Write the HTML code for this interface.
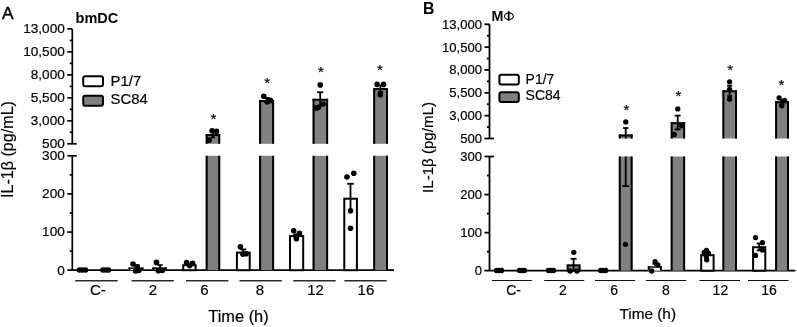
<!DOCTYPE html>
<html><head><meta charset="utf-8"><style>
html,body{margin:0;padding:0;background:#fff;}
svg{display:block;font-family:"Liberation Sans", sans-serif;will-change:transform;}
text{stroke:#000;stroke-width:0.18px;}
</style></head><body>
<svg width="797" height="327" viewBox="0 0 797 327" fill="#000">
<rect width="797" height="327" fill="#fff"/>
<line x1="72.3" y1="28.95" x2="72.3" y2="143.8" stroke="#000" stroke-width="1.7"/>
<line x1="72.3" y1="155.8" x2="72.3" y2="270.2" stroke="#000" stroke-width="1.7"/>
<line x1="67.3" y1="28.9" x2="72.3" y2="28.9" stroke="#000" stroke-width="1.7"/>
<line x1="69.7" y1="40.39" x2="72.3" y2="40.39" stroke="#000" stroke-width="1.7"/>
<line x1="67.3" y1="51.88" x2="72.3" y2="51.88" stroke="#000" stroke-width="1.7"/>
<line x1="69.7" y1="63.37" x2="72.3" y2="63.37" stroke="#000" stroke-width="1.7"/>
<line x1="67.3" y1="74.86" x2="72.3" y2="74.86" stroke="#000" stroke-width="1.7"/>
<line x1="69.7" y1="86.35" x2="72.3" y2="86.35" stroke="#000" stroke-width="1.7"/>
<line x1="67.3" y1="97.84" x2="72.3" y2="97.84" stroke="#000" stroke-width="1.7"/>
<line x1="69.7" y1="109.33" x2="72.3" y2="109.33" stroke="#000" stroke-width="1.7"/>
<line x1="67.3" y1="120.82" x2="72.3" y2="120.82" stroke="#000" stroke-width="1.7"/>
<line x1="69.7" y1="132.31" x2="72.3" y2="132.31" stroke="#000" stroke-width="1.7"/>
<line x1="67.3" y1="143.8" x2="76.7" y2="143.8" stroke="#000" stroke-width="1.7"/>
<line x1="67.3" y1="155.8" x2="76.7" y2="155.8" stroke="#000" stroke-width="1.7"/>
<line x1="67.3" y1="193.93" x2="72.3" y2="193.93" stroke="#000" stroke-width="1.7"/>
<line x1="69.7" y1="174.87" x2="72.3" y2="174.87" stroke="#000" stroke-width="1.7"/>
<line x1="67.3" y1="232.07" x2="72.3" y2="232.07" stroke="#000" stroke-width="1.7"/>
<line x1="69.7" y1="213.0" x2="72.3" y2="213.0" stroke="#000" stroke-width="1.7"/>
<line x1="69.7" y1="251.13" x2="72.3" y2="251.13" stroke="#000" stroke-width="1.7"/>
<line x1="67.3" y1="270.2" x2="394" y2="270.2" stroke="#000" stroke-width="1.7"/>
<text transform="translate(64.8,33.3) scale(1.025,1)" font-size="13.3" text-anchor="end" font-weight="normal" >13,000</text>
<text transform="translate(64.8,56.28) scale(1.025,1)" font-size="13.3" text-anchor="end" font-weight="normal" >10,500</text>
<text transform="translate(64.8,79.26) scale(1.025,1)" font-size="13.3" text-anchor="end" font-weight="normal" >8,000</text>
<text transform="translate(64.8,102.24) scale(1.025,1)" font-size="13.3" text-anchor="end" font-weight="normal" >5,500</text>
<text transform="translate(64.8,125.22) scale(1.025,1)" font-size="13.3" text-anchor="end" font-weight="normal" >3,000</text>
<text transform="translate(64.8,148.2) scale(1.025,1)" font-size="13.3" text-anchor="end" font-weight="normal" >500</text>
<text transform="translate(64.8,160.2) scale(1.025,1)" font-size="13.3" text-anchor="end" font-weight="normal" >300</text>
<text transform="translate(64.8,198.33) scale(1.025,1)" font-size="13.3" text-anchor="end" font-weight="normal" >200</text>
<text transform="translate(64.8,236.47) scale(1.025,1)" font-size="13.3" text-anchor="end" font-weight="normal" >100</text>
<text transform="translate(64.8,274.6) scale(1.025,1)" font-size="13.3" text-anchor="end" font-weight="normal" >0</text>
<circle cx="79.5" cy="270" r="2.8"/>
<circle cx="82.5" cy="270" r="2.8"/>
<circle cx="85.5" cy="270" r="2.8"/>
<circle cx="103" cy="270" r="2.8"/>
<circle cx="106" cy="270" r="2.8"/>
<circle cx="108.5" cy="270" r="2.8"/>
<rect x="128.5" y="267.5" width="15.0" height="2.6999999999999886" fill="#fff"/>
<line x1="129.5" y1="267.5" x2="129.5" y2="270.2" stroke="#000" stroke-width="2"/>
<line x1="142.5" y1="267.5" x2="142.5" y2="270.2" stroke="#000" stroke-width="2"/>
<line x1="128.5" y1="268.2" x2="143.5" y2="268.2" stroke="#000" stroke-width="1.4"/>
<line x1="137" y1="265.5" x2="137" y2="268" stroke="#000" stroke-width="1.8"/>
<line x1="134.0" y1="265.5" x2="140.0" y2="265.5" stroke="#000" stroke-width="1.8"/>
<circle cx="133" cy="264" r="2.8"/>
<circle cx="137.2" cy="266.9" r="2.8"/>
<circle cx="135.6" cy="271" r="2.8"/>
<circle cx="138.8" cy="270.5" r="2.8"/>
<rect x="152.3" y="267.5" width="14.599999999999994" height="2.6999999999999886" fill="#808080"/>
<line x1="153.3" y1="267.5" x2="153.3" y2="270.2" stroke="#000" stroke-width="2"/>
<line x1="165.9" y1="267.5" x2="165.9" y2="270.2" stroke="#000" stroke-width="2"/>
<line x1="152.3" y1="268.2" x2="166.9" y2="268.2" stroke="#000" stroke-width="1.4"/>
<line x1="160.1" y1="265.1" x2="160.1" y2="268" stroke="#000" stroke-width="1.8"/>
<line x1="157.6" y1="265.1" x2="162.6" y2="265.1" stroke="#000" stroke-width="1.8"/>
<circle cx="156.5" cy="262.4" r="2.8"/>
<circle cx="158.4" cy="270.8" r="2.8"/>
<circle cx="162.2" cy="270.5" r="2.8"/>
<rect x="183.2" y="265.2" width="12.400000000000006" height="5.0" fill="#fff" stroke="#000" stroke-width="2"/>
<circle cx="186.6" cy="262.6" r="2.8"/>
<circle cx="192.6" cy="263.2" r="2.8"/>
<circle cx="189.6" cy="265.6" r="2.8"/>
<rect x="205.7" y="155.8" width="14.5" height="114.39999999999998" fill="#808080"/>
<line x1="206.7" y1="155.8" x2="206.7" y2="270.2" stroke="#000" stroke-width="2"/>
<line x1="219.2" y1="155.8" x2="219.2" y2="270.2" stroke="#000" stroke-width="2"/>
<rect x="205.7" y="134.1" width="14.5" height="9.700000000000017" fill="#808080"/>
<line x1="206.7" y1="134.1" x2="206.7" y2="143.8" stroke="#000" stroke-width="2"/>
<line x1="219.2" y1="134.1" x2="219.2" y2="143.8" stroke="#000" stroke-width="2"/>
<line x1="205.7" y1="135.1" x2="220.2" y2="135.1" stroke="#000" stroke-width="2"/>
<line x1="213" y1="131" x2="213" y2="137.4" stroke="#000" stroke-width="1.8"/>
<line x1="211.0" y1="137.4" x2="215.0" y2="137.4" stroke="#000" stroke-width="1.8"/>
<circle cx="212.1" cy="130.7" r="2.8"/>
<circle cx="216.5" cy="131.4" r="2.8"/>
<circle cx="209.1" cy="140.1" r="2.8"/>
<text x="213.3" y="124.1" font-size="15" text-anchor="middle" font-weight="normal" >*</text>
<rect x="236.9" y="252.6" width="12.799999999999983" height="17.599999999999994" fill="#fff" stroke="#000" stroke-width="2"/>
<line x1="243.3" y1="249.4" x2="243.3" y2="254" stroke="#000" stroke-width="1.8"/>
<line x1="240.3" y1="249.4" x2="246.3" y2="249.4" stroke="#000" stroke-width="1.8"/>
<circle cx="240.4" cy="246.7" r="2.8"/>
<circle cx="242.8" cy="254.1" r="2.8"/>
<circle cx="246.1" cy="253.8" r="2.8"/>
<rect x="259.1" y="155.8" width="15.0" height="114.39999999999998" fill="#808080"/>
<line x1="260.1" y1="155.8" x2="260.1" y2="270.2" stroke="#000" stroke-width="2"/>
<line x1="273.1" y1="155.8" x2="273.1" y2="270.2" stroke="#000" stroke-width="2"/>
<rect x="259.1" y="100.1" width="15.0" height="43.70000000000002" fill="#808080"/>
<line x1="260.1" y1="100.1" x2="260.1" y2="143.8" stroke="#000" stroke-width="2"/>
<line x1="273.1" y1="100.1" x2="273.1" y2="143.8" stroke="#000" stroke-width="2"/>
<line x1="259.1" y1="101.1" x2="274.1" y2="101.1" stroke="#000" stroke-width="2"/>
<line x1="266.6" y1="97.9" x2="266.6" y2="102" stroke="#000" stroke-width="1.8"/>
<line x1="263.6" y1="97.9" x2="269.6" y2="97.9" stroke="#000" stroke-width="1.8"/>
<circle cx="263.7" cy="96.2" r="2.8"/>
<circle cx="267.2" cy="102" r="2.8"/>
<circle cx="270.3" cy="100.4" r="2.8"/>
<text x="267.1" y="88.4" font-size="15" text-anchor="middle" font-weight="normal" >*</text>
<rect x="290.0" y="236.1" width="13.199999999999989" height="34.099999999999994" fill="#fff" stroke="#000" stroke-width="2"/>
<circle cx="293.7" cy="230.7" r="2.8"/>
<circle cx="299.5" cy="233.4" r="2.8"/>
<circle cx="296.4" cy="238.8" r="2.8"/>
<circle cx="295.8" cy="236.1" r="2.8"/>
<rect x="312.6" y="155.8" width="15.5" height="114.39999999999998" fill="#808080"/>
<line x1="313.6" y1="155.8" x2="313.6" y2="270.2" stroke="#000" stroke-width="2"/>
<line x1="327.1" y1="155.8" x2="327.1" y2="270.2" stroke="#000" stroke-width="2"/>
<rect x="312.6" y="98.8" width="15.5" height="45.000000000000014" fill="#808080"/>
<line x1="313.6" y1="98.8" x2="313.6" y2="143.8" stroke="#000" stroke-width="2"/>
<line x1="327.1" y1="98.8" x2="327.1" y2="143.8" stroke="#000" stroke-width="2"/>
<line x1="312.6" y1="99.8" x2="328.1" y2="99.8" stroke="#000" stroke-width="2"/>
<line x1="320.2" y1="92.2" x2="320.2" y2="106" stroke="#000" stroke-width="1.8"/>
<line x1="317.1" y1="92.2" x2="323.3" y2="92.2" stroke="#000" stroke-width="1.8"/>
<circle cx="320.3" cy="84.9" r="2.8"/>
<circle cx="316.4" cy="107.9" r="2.8"/>
<circle cx="318.6" cy="107.2" r="2.8"/>
<circle cx="323.2" cy="104" r="2.8"/>
<text x="320.8" y="77.3" font-size="15" text-anchor="middle" font-weight="normal" >*</text>
<rect x="344.3" y="198.7" width="12.599999999999966" height="71.5" fill="#fff" stroke="#000" stroke-width="2"/>
<line x1="350.5" y1="183.8" x2="350.5" y2="210.7" stroke="#000" stroke-width="1.8"/>
<line x1="347.25" y1="183.8" x2="353.75" y2="183.8" stroke="#000" stroke-width="1.8"/>
<circle cx="347" cy="177" r="2.8"/>
<circle cx="353.8" cy="173.3" r="2.8"/>
<circle cx="350.5" cy="210.7" r="2.8"/>
<circle cx="350.5" cy="228.3" r="2.8"/>
<rect x="373.2" y="155.8" width="14.800000000000011" height="114.39999999999998" fill="#808080"/>
<line x1="374.2" y1="155.8" x2="374.2" y2="270.2" stroke="#000" stroke-width="2"/>
<line x1="387" y1="155.8" x2="387" y2="270.2" stroke="#000" stroke-width="2"/>
<rect x="373.2" y="88" width="14.800000000000011" height="55.80000000000001" fill="#808080"/>
<line x1="374.2" y1="88" x2="374.2" y2="143.8" stroke="#000" stroke-width="2"/>
<line x1="387" y1="88" x2="387" y2="143.8" stroke="#000" stroke-width="2"/>
<line x1="373.2" y1="89" x2="388" y2="89" stroke="#000" stroke-width="2"/>
<line x1="380.4" y1="85" x2="380.4" y2="95" stroke="#000" stroke-width="1.8"/>
<line x1="377.65" y1="92" x2="383.15" y2="92" stroke="#000" stroke-width="1.8"/>
<circle cx="377.1" cy="84.4" r="2.8"/>
<circle cx="383.5" cy="84.4" r="2.8"/>
<circle cx="380.2" cy="95" r="2.8"/>
<text x="380" y="75.4" font-size="15" text-anchor="middle" font-weight="normal" >*</text>
<line x1="75.3" y1="280.8" x2="117.6" y2="280.8" stroke="#2a2a2a" stroke-width="1.4"/>
<text x="97.8" y="295.1" font-size="15" text-anchor="middle" font-weight="normal" >C-</text>
<line x1="131.6" y1="280.8" x2="173.8" y2="280.8" stroke="#2a2a2a" stroke-width="1.4"/>
<text x="153" y="295.1" font-size="15" text-anchor="middle" font-weight="normal" >2</text>
<line x1="186" y1="280.8" x2="228.3" y2="280.8" stroke="#2a2a2a" stroke-width="1.4"/>
<text x="204.4" y="295.1" font-size="15" text-anchor="middle" font-weight="normal" >6</text>
<line x1="239.5" y1="280.8" x2="281.8" y2="280.8" stroke="#2a2a2a" stroke-width="1.4"/>
<text x="259.9" y="295.1" font-size="15" text-anchor="middle" font-weight="normal" >8</text>
<line x1="293.3" y1="280.8" x2="335.7" y2="280.8" stroke="#2a2a2a" stroke-width="1.4"/>
<text x="315.5" y="295.1" font-size="15" text-anchor="middle" font-weight="normal" >12</text>
<line x1="344.4" y1="280.8" x2="386.6" y2="280.8" stroke="#2a2a2a" stroke-width="1.4"/>
<text x="365.9" y="295.1" font-size="15" text-anchor="middle" font-weight="normal" >16</text>
<rect x="83.2" y="76.3" width="19.8" height="10" rx="2" fill="#fff" stroke="#000" stroke-width="2"/>
<rect x="83.2" y="95.7" width="19.8" height="10" rx="2" fill="#808080" stroke="#000" stroke-width="2"/>
<text transform="translate(110.6,85.9) scale(1.025,1)" font-size="14.5" text-anchor="start" font-weight="normal" >P1/7</text>
<text transform="translate(110.6,103.6) scale(1.025,1)" font-size="14.5" text-anchor="start" font-weight="normal" >SC84</text>
<text x="1.9" y="18.6" font-size="17.3" style="stroke-width:0.45px">A</text>
<text x="75.6" y="22.8" font-size="14.5" font-weight="bold" style="stroke-width:0">bmDC</text>
<text transform="translate(13.3,149.5) rotate(-90)" font-size="16.1" text-anchor="middle">IL-1β (pg/mL)</text>
<text transform="translate(238.5,321.7) scale(1.025,1)" font-size="16" text-anchor="middle">Time (h)</text>
<line x1="489.5" y1="24.3" x2="489.5" y2="138.5" stroke="#000" stroke-width="1.8"/>
<line x1="489.5" y1="156.5" x2="489.5" y2="270.7" stroke="#000" stroke-width="1.8"/>
<line x1="484.5" y1="24.3" x2="489.5" y2="24.3" stroke="#000" stroke-width="1.8"/>
<line x1="486.9" y1="35.72" x2="489.5" y2="35.72" stroke="#000" stroke-width="1.8"/>
<line x1="484.5" y1="47.14" x2="489.5" y2="47.14" stroke="#000" stroke-width="1.8"/>
<line x1="486.9" y1="58.56" x2="489.5" y2="58.56" stroke="#000" stroke-width="1.8"/>
<line x1="484.5" y1="69.98" x2="489.5" y2="69.98" stroke="#000" stroke-width="1.8"/>
<line x1="486.9" y1="81.4" x2="489.5" y2="81.4" stroke="#000" stroke-width="1.8"/>
<line x1="484.5" y1="92.82" x2="489.5" y2="92.82" stroke="#000" stroke-width="1.8"/>
<line x1="486.9" y1="104.24" x2="489.5" y2="104.24" stroke="#000" stroke-width="1.8"/>
<line x1="484.5" y1="115.66" x2="489.5" y2="115.66" stroke="#000" stroke-width="1.8"/>
<line x1="486.9" y1="127.08" x2="489.5" y2="127.08" stroke="#000" stroke-width="1.8"/>
<line x1="484.5" y1="138.5" x2="493.9" y2="138.5" stroke="#000" stroke-width="1.8"/>
<line x1="484.5" y1="156.5" x2="493.9" y2="156.5" stroke="#000" stroke-width="1.8"/>
<line x1="484.5" y1="194.57" x2="489.5" y2="194.57" stroke="#000" stroke-width="1.8"/>
<line x1="486.9" y1="175.53" x2="489.5" y2="175.53" stroke="#000" stroke-width="1.8"/>
<line x1="484.5" y1="232.63" x2="489.5" y2="232.63" stroke="#000" stroke-width="1.8"/>
<line x1="486.9" y1="213.6" x2="489.5" y2="213.6" stroke="#000" stroke-width="1.8"/>
<line x1="486.9" y1="251.67" x2="489.5" y2="251.67" stroke="#000" stroke-width="1.8"/>
<line x1="484.5" y1="270.7" x2="795.5" y2="270.7" stroke="#000" stroke-width="1.8"/>
<text transform="translate(482.1,28.8) scale(1.04,1)" font-size="12.6" text-anchor="end" font-weight="normal" >13,000</text>
<text transform="translate(482.1,51.64) scale(1.04,1)" font-size="12.6" text-anchor="end" font-weight="normal" >10,500</text>
<text transform="translate(482.1,74.48) scale(1.04,1)" font-size="12.6" text-anchor="end" font-weight="normal" >8,000</text>
<text transform="translate(482.1,97.32) scale(1.04,1)" font-size="12.6" text-anchor="end" font-weight="normal" >5,500</text>
<text transform="translate(482.1,120.16) scale(1.04,1)" font-size="12.6" text-anchor="end" font-weight="normal" >3,000</text>
<text transform="translate(482.1,143.0) scale(1.04,1)" font-size="12.6" text-anchor="end" font-weight="normal" >500</text>
<text transform="translate(482.1,161.0) scale(1.04,1)" font-size="12.6" text-anchor="end" font-weight="normal" >300</text>
<text transform="translate(482.1,199.07) scale(1.04,1)" font-size="12.6" text-anchor="end" font-weight="normal" >200</text>
<text transform="translate(482.1,237.13) scale(1.04,1)" font-size="12.6" text-anchor="end" font-weight="normal" >100</text>
<text transform="translate(482.1,275.2) scale(1.04,1)" font-size="12.6" text-anchor="end" font-weight="normal" >0</text>
<circle cx="496.5" cy="270.5" r="2.65"/>
<circle cx="499" cy="270.5" r="2.65"/>
<circle cx="501.5" cy="270.5" r="2.65"/>
<circle cx="519.5" cy="270.5" r="2.65"/>
<circle cx="522" cy="270.5" r="2.65"/>
<circle cx="524.5" cy="270.5" r="2.65"/>
<circle cx="548.5" cy="270.5" r="2.65"/>
<circle cx="551" cy="270.5" r="2.65"/>
<circle cx="553.5" cy="270.5" r="2.65"/>
<rect x="567.6" y="265.3" width="12.0" height="5.399999999999977" fill="#808080" stroke="#000" stroke-width="2"/>
<line x1="573.6" y1="258.8" x2="573.6" y2="270" stroke="#000" stroke-width="1.8"/>
<line x1="570.6" y1="258.8" x2="576.6" y2="258.8" stroke="#000" stroke-width="1.8"/>
<circle cx="573.8" cy="252.3" r="2.65"/>
<circle cx="570.1" cy="271" r="2.65"/>
<circle cx="577" cy="271" r="2.65"/>
<circle cx="600.7" cy="270.5" r="2.65"/>
<circle cx="603.2" cy="270.5" r="2.65"/>
<circle cx="605.7" cy="270.5" r="2.65"/>
<rect x="618.8" y="156.5" width="13.800000000000068" height="114.19999999999999" fill="#808080"/>
<line x1="619.8" y1="156.5" x2="619.8" y2="270.7" stroke="#000" stroke-width="2"/>
<line x1="631.6" y1="156.5" x2="631.6" y2="270.7" stroke="#000" stroke-width="2"/>
<rect x="618.8" y="134.5" width="13.800000000000068" height="4.0" fill="#808080"/>
<line x1="619.8" y1="134.5" x2="619.8" y2="138.5" stroke="#000" stroke-width="2"/>
<line x1="631.6" y1="134.5" x2="631.6" y2="138.5" stroke="#000" stroke-width="2"/>
<line x1="618.8" y1="135.5" x2="632.6" y2="135.5" stroke="#000" stroke-width="2"/>
<line x1="625.7" y1="128" x2="625.7" y2="138.5" stroke="#000" stroke-width="1.8"/>
<line x1="623.05" y1="128" x2="628.35" y2="128" stroke="#000" stroke-width="1.8"/>
<line x1="625.7" y1="156.5" x2="625.7" y2="186.1" stroke="#000" stroke-width="1.8"/>
<line x1="622.3" y1="186.1" x2="629.1" y2="186.1" stroke="#000" stroke-width="1.8"/>
<circle cx="625.8" cy="121.9" r="2.65"/>
<circle cx="625.4" cy="244.3" r="2.65"/>
<text x="626.3" y="114.9" font-size="15" text-anchor="middle" font-weight="normal" >*</text>
<rect x="647.8" y="266.3" width="14.100000000000023" height="4.399999999999977" fill="#fff"/>
<line x1="648.8" y1="266.3" x2="648.8" y2="270.7" stroke="#000" stroke-width="2"/>
<line x1="660.9" y1="266.3" x2="660.9" y2="270.7" stroke="#000" stroke-width="2"/>
<line x1="647.8" y1="267.0" x2="661.9" y2="267.0" stroke="#000" stroke-width="1.4"/>
<line x1="655.2" y1="262" x2="655.2" y2="266" stroke="#000" stroke-width="1.8"/>
<line x1="652.45" y1="263.9" x2="657.95" y2="263.9" stroke="#000" stroke-width="1.8"/>
<circle cx="655.1" cy="261.7" r="2.65"/>
<circle cx="657.8" cy="265" r="2.65"/>
<circle cx="651.7" cy="271" r="2.65"/>
<rect x="670.7" y="156.5" width="14.399999999999977" height="114.19999999999999" fill="#808080"/>
<line x1="671.7" y1="156.5" x2="671.7" y2="270.7" stroke="#000" stroke-width="2"/>
<line x1="684.1" y1="156.5" x2="684.1" y2="270.7" stroke="#000" stroke-width="2"/>
<rect x="670.7" y="122.2" width="14.399999999999977" height="16.299999999999997" fill="#808080"/>
<line x1="671.7" y1="122.2" x2="671.7" y2="138.5" stroke="#000" stroke-width="2"/>
<line x1="684.1" y1="122.2" x2="684.1" y2="138.5" stroke="#000" stroke-width="2"/>
<line x1="670.7" y1="123.2" x2="685.1" y2="123.2" stroke="#000" stroke-width="2"/>
<line x1="677.7" y1="115.6" x2="677.7" y2="129.4" stroke="#000" stroke-width="1.8"/>
<line x1="674.8" y1="115.6" x2="680.6" y2="115.6" stroke="#000" stroke-width="1.8"/>
<line x1="674.8" y1="129.4" x2="680.6" y2="129.4" stroke="#000" stroke-width="1.8"/>
<circle cx="677.8" cy="108.9" r="2.65"/>
<circle cx="681.6" cy="125.8" r="2.65"/>
<circle cx="674.2" cy="134.5" r="2.65"/>
<text x="678.3" y="101.3" font-size="15" text-anchor="middle" font-weight="normal" >*</text>
<rect x="701.2" y="255.2" width="12.399999999999977" height="15.5" fill="#fff" stroke="#000" stroke-width="2"/>
<circle cx="706.5" cy="250.3" r="2.65"/>
<circle cx="704.2" cy="252.5" r="2.65"/>
<circle cx="708.5" cy="253.5" r="2.65"/>
<circle cx="706.3" cy="256.5" r="2.65"/>
<circle cx="706.7" cy="259.8" r="2.65"/>
<rect x="722.4" y="156.5" width="14.600000000000023" height="114.19999999999999" fill="#808080"/>
<line x1="723.4" y1="156.5" x2="723.4" y2="270.7" stroke="#000" stroke-width="2"/>
<line x1="736" y1="156.5" x2="736" y2="270.7" stroke="#000" stroke-width="2"/>
<rect x="722.4" y="90.3" width="14.600000000000023" height="48.2" fill="#808080"/>
<line x1="723.4" y1="90.3" x2="723.4" y2="138.5" stroke="#000" stroke-width="2"/>
<line x1="736" y1="90.3" x2="736" y2="138.5" stroke="#000" stroke-width="2"/>
<line x1="722.4" y1="91.3" x2="737" y2="91.3" stroke="#000" stroke-width="2"/>
<line x1="729.6" y1="85.7" x2="729.6" y2="96" stroke="#000" stroke-width="1.8"/>
<line x1="727.1" y1="85.7" x2="732.1" y2="85.7" stroke="#000" stroke-width="1.8"/>
<line x1="727.1" y1="96" x2="732.1" y2="96" stroke="#000" stroke-width="1.8"/>
<circle cx="729.6" cy="81.8" r="2.65"/>
<circle cx="729.6" cy="89.3" r="2.65"/>
<circle cx="729.6" cy="99.2" r="2.65"/>
<text x="730.2" y="74.9" font-size="15" text-anchor="middle" font-weight="normal" >*</text>
<rect x="753.1" y="247.2" width="12.199999999999932" height="23.5" fill="#fff" stroke="#000" stroke-width="2"/>
<line x1="759.2" y1="243.5" x2="759.2" y2="250.4" stroke="#000" stroke-width="1.8"/>
<line x1="756.7" y1="243.5" x2="761.7" y2="243.5" stroke="#000" stroke-width="1.8"/>
<line x1="756.7" y1="250.4" x2="761.7" y2="250.4" stroke="#000" stroke-width="1.8"/>
<circle cx="755.5" cy="237.6" r="2.65"/>
<circle cx="762.4" cy="242.7" r="2.65"/>
<circle cx="762.4" cy="250" r="2.65"/>
<circle cx="755.5" cy="255.4" r="2.65"/>
<rect x="775.1" y="156.5" width="13.899999999999977" height="114.19999999999999" fill="#808080"/>
<line x1="776.1" y1="156.5" x2="776.1" y2="270.7" stroke="#000" stroke-width="2"/>
<line x1="788" y1="156.5" x2="788" y2="270.7" stroke="#000" stroke-width="2"/>
<rect x="775.1" y="101.3" width="13.899999999999977" height="37.2" fill="#808080"/>
<line x1="776.1" y1="101.3" x2="776.1" y2="138.5" stroke="#000" stroke-width="2"/>
<line x1="788" y1="101.3" x2="788" y2="138.5" stroke="#000" stroke-width="2"/>
<line x1="775.1" y1="102.3" x2="789" y2="102.3" stroke="#000" stroke-width="2"/>
<line x1="781.8" y1="99.8" x2="781.8" y2="104.5" stroke="#000" stroke-width="1.8"/>
<line x1="779.3" y1="99.8" x2="784.3" y2="99.8" stroke="#000" stroke-width="1.8"/>
<line x1="779.3" y1="104.5" x2="784.3" y2="104.5" stroke="#000" stroke-width="1.8"/>
<circle cx="779.1" cy="97.8" r="2.65"/>
<circle cx="784.6" cy="100.5" r="2.65"/>
<circle cx="781.8" cy="105.8" r="2.65"/>
<text x="781.3" y="90.1" font-size="15" text-anchor="middle" font-weight="normal" >*</text>
<line x1="491.9" y1="280.5" x2="531.8" y2="280.5" stroke="#111" stroke-width="1.1"/>
<text x="513.6" y="294.8" font-size="14" text-anchor="middle" font-weight="normal" >C-</text>
<line x1="544.2" y1="280.5" x2="584.2" y2="280.5" stroke="#111" stroke-width="1.1"/>
<text x="563" y="294.8" font-size="14" text-anchor="middle" font-weight="normal" >2</text>
<line x1="595" y1="280.5" x2="635" y2="280.5" stroke="#111" stroke-width="1.1"/>
<text x="614.1" y="294.8" font-size="14" text-anchor="middle" font-weight="normal" >6</text>
<line x1="645.9" y1="280.5" x2="686.2" y2="280.5" stroke="#111" stroke-width="1.1"/>
<text x="665.8" y="294.8" font-size="14" text-anchor="middle" font-weight="normal" >8</text>
<line x1="699.4" y1="280.5" x2="740" y2="280.5" stroke="#111" stroke-width="1.1"/>
<text x="720.4" y="294.8" font-size="14" text-anchor="middle" font-weight="normal" >12</text>
<line x1="748" y1="280.5" x2="788.5" y2="280.5" stroke="#111" stroke-width="1.1"/>
<text x="769" y="294.8" font-size="14" text-anchor="middle" font-weight="normal" >16</text>
<rect x="499.4" y="74.8" width="19.4" height="9.6" rx="2" fill="#fff" stroke="#000" stroke-width="2"/>
<rect x="499.4" y="92.3" width="19.4" height="9.6" rx="2" fill="#808080" stroke="#000" stroke-width="2"/>
<text x="525.6" y="83.8" font-size="14" text-anchor="start" font-weight="normal" >P1/7</text>
<text x="525.6" y="99.6" font-size="14" text-anchor="start" font-weight="normal" >SC84</text>
<text x="422.9" y="13.8" font-size="15.8" font-weight="bold" style="stroke-width:0">B</text>
<text x="491.5" y="20.8" font-size="14.3" font-weight="bold" style="stroke-width:0">M</text>
<ellipse cx="508.9" cy="16.2" rx="4.4" ry="3.3" fill="none" stroke="#000" stroke-width="1.15"/>
<line x1="508.7" y1="11.2" x2="508.7" y2="20.7" stroke="#000" stroke-width="1.8"/>
<text transform="translate(433.2,147.5) rotate(-90)" font-size="15.1" text-anchor="middle">IL-1β (pg/mL)</text>
<text transform="translate(647.7,319.3) scale(1.025,1)" font-size="15" text-anchor="middle">Time (h)</text>
</svg>
</body></html>
